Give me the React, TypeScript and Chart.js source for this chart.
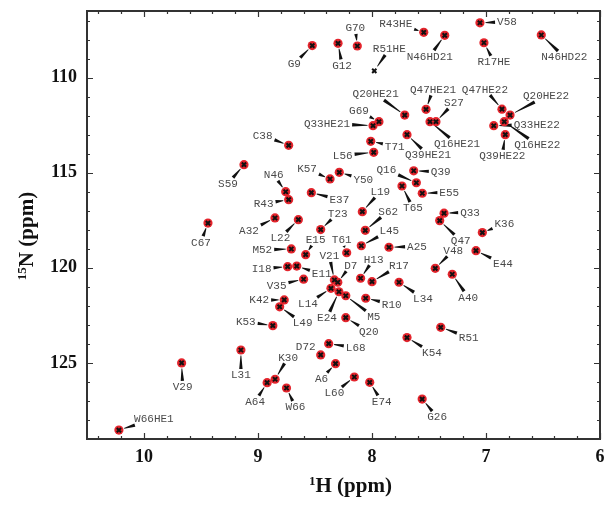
import { useEffect, useRef } from "react";
import { Chart, registerables } from "chart.js";

Chart.register(...registerables);

// Peak assignments (labels), 1H and 15N chemical shifts (ppm)
const peakLabels = [
  "W66HE1", "V29", "L31", "K30", "A64", "W66", "A6", "L60", "E74", "G26",
  "D72", "L68", "K53", "L49", "K42", "Q20", "L14", "E24", "M5", "I18",
  "E11", "V35", "V21", "D7", "H13", "R17", "R10", "L34", "K54", "R51",
  "A40", "E44", "V48", "Q47", "K36", "Q33", "A25", "L45", "S62", "T61",
  "T23", "L19", "E15", "M52", "L22", "A32", "C67", "R43", "N46", "E37",
  "K57", "Y50", "Q16", "Q39", "T65", "E55", "S59", "C38", "L56", "T71",
  "Q39HE21", "Q16HE21", "S27", "Q33HE21", "G69", "Q20HE21", "Q47HE21", "Q47HE22", "Q20HE22", "Q33HE22",
  "Q16HE22", "Q39HE22", "G9", "G12", "G70", "R51HE", "R43HE", "N46HD21", "V58", "R17HE",
  "N46HD22",
];

const hShifts = [
  10.22, 9.67, 9.15, 8.85, 8.92, 8.75, 8.32, 8.155, 8.02, 7.56,
  8.45, 8.38, 8.87, 8.81, 8.77, 8.23, 8.36, 8.29, 8.23, 8.74,
  8.66, 8.60, 8.33, 8.30, 8.10, 8.00, 8.055, 7.763, 7.693, 7.397,
  7.296, 7.088, 7.445, 7.406, 7.032, 7.368, 7.851, 8.094, 8.059, 8.222,
  8.45, 8.085, 8.582, 8.708, 8.646, 8.851, 9.439, 8.731, 8.757, 8.532,
  8.368, 8.287, 7.611, 7.634, 7.737, 7.559, 9.123, 8.731, 7.985, 8.011,
  7.693, 7.491, 7.439, 7.991, 7.939, 7.713, 7.526, 6.86, 6.789, 6.932,
  6.84, 6.831, 8.524, 8.298, 8.129, 7.98, 7.546, 7.362, 7.053, 7.018,
  6.515,
];

const nShifts = [
  128.53, 125.0, 124.32, 125.86, 126.04, 126.32, 125.04, 125.74, 126.02, 126.9,
  124.58, 123.99, 123.04, 122.05, 121.69, 122.62, 121.08, 121.26, 121.47, 119.94,
  119.91, 120.6, 120.64, 120.76, 120.55, 120.73, 121.6, 120.76, 123.67, 123.13,
  120.34, 119.1, 120.03, 117.52, 118.15, 117.13, 118.92, 118.84, 118.03, 119.21,
  117.99, 117.05, 119.31, 119.01, 117.47, 117.38, 117.65, 116.42, 116.0, 116.05,
  115.33, 114.98, 115.53, 114.9, 115.7, 116.08, 114.58, 113.56, 113.93, 113.35,
  113.0, 112.32, 112.32, 112.53, 112.32, 111.97, 111.67, 111.66, 111.97, 112.53,
  112.32, 113.0, 108.32, 108.2, 108.34, 109.65, 107.62, 107.78, 107.12, 108.17,
  107.76,
];

// Label placement: offset of each label's centre from its peak (pixels)
const labelDx = [
  35, 1, 0, 13, -12, 9, -14, -20, 12, 15,
  -15, 27, -27, 23, -25, 23, -23, -12, 28, -26,
  25, -27, -5, 13, 13, 27, 26, 24, 25, 28,
  16, 27, 18, 21, 22, 26, 28, 28, 23, -5,
  17, 18, 10, -29, -18, -26, -7, -25, -12, 28,
  -23, 24, -30, 27, 11, 27, -16, -26, -31, 24,
  21, 27, 18, -46, -20, -29, 7, -17, 36, 43,
  33, -3, -18, 4, -2, 15, -28, -15, 27, 10,
  23,
];
const labelDy = [
  -11, 24, 25, -22, 19, 19, 15, 16, 19, 18,
  -8, 4, -4, 16, 0, 14, 15, 26, 21, 2,
  8, 6, -24, -17, -19, -16, 6, 16, 15, 10,
  23, 13, -18, 20, -9, -1, -1, -15, -19, -13,
  -16, -20, -15, 1, 18, 13, 19, 4, -17, 7,
  -10, 7, -13, 1, 22, -1, 19, -10, 3, 5,
  20, 22, -19, -2, -11, -21, -20, -20, -19, -1,
  23, 21, 18, 22, -18, -22, -9, 21, -1, 19,
  22,
];

const crossOnlyPeaks = ["R51HE"];

const xTickValues = [10, 9, 8, 7, 6];
const yTickValues = [110, 115, 120, 125];

const X_MIN = 6, X_MAX = 10.5;
const Y_MIN = 106.5, Y_MAX = 129;

const nmrPlugin = {
  id: "nmrDecor",
  beforeDatasetsDraw(chart: any) {
    const { ctx, scales } = chart;
    const xs = scales.x, ys = scales.y;
    ctx.save();
    ctx.font = "11px 'Liberation Mono', monospace";
    ctx.textAlign = "center";
    ctx.textBaseline = "middle";
    peakLabels.forEach((name, i) => {
      const px = xs.getPixelForValue(hShifts[i]);
      const py = ys.getPixelForValue(nShifts[i]);
      const lx = px + labelDx[i];
      const ly = py + labelDy[i];
      const w = ctx.measureText(name).width;
      const hw = w / 2 + 2, hh = 6;
      const vx = px - lx, vy = py - ly;
      const s = Math.min(vx !== 0 ? hw / Math.abs(vx) : Infinity, vy !== 0 ? hh / Math.abs(vy) : Infinity);
      const ex = lx + vx * s, ey = ly + vy * s;
      const len = Math.hypot(px - ex, py - ey);
      if (len > 7) {
        const ux = (ex - px) / len, uy = (ey - py) / len;
        const sx = px + ux * 5.5, sy = py + uy * 5.5;
        const nx = -uy, ny = ux;
        const w0 = 0.4, w1 = 1.7;
        ctx.beginPath();
        ctx.moveTo(sx + nx * w0, sy + ny * w0);
        ctx.lineTo(ex + nx * w1, ey + ny * w1);
        ctx.lineTo(ex - nx * w1, ey - ny * w1);
        ctx.lineTo(sx - nx * w0, sy - ny * w0);
        ctx.closePath();
        ctx.fillStyle = "#111";
        ctx.fill();
      }
      ctx.fillStyle = "#4a4a4a";
      ctx.fillText(name, lx, ly + 0.5);
    });
    ctx.restore();
  },
  afterDatasetsDraw(chart: any) {
    const { ctx, chartArea, scales } = chart;
    const { left, right, top, bottom } = chartArea;
    const xs = scales.x, ys = scales.y;
    ctx.save();
    ctx.strokeStyle = "#333";
    ctx.lineWidth = 1.2;
    ctx.beginPath();
    for (let k = 0; k <= 45; k++) {
      const v = X_MIN + k * 0.1;
      const major = Math.abs(v - Math.round(v)) < 1e-6;
      const minor = k % 2 === 0;
      if (!major && !minor) continue;
      const L = major ? 6 : 3;
      const p = Math.round(xs.getPixelForValue(v)) + 0.5;
      ctx.moveTo(p, bottom); ctx.lineTo(p, bottom - L);
      ctx.moveTo(p, top); ctx.lineTo(p, top + L);
    }
    for (let v = 107; v <= 129; v++) {
      const major = v % 5 === 0;
      const L = major ? 6 : 3;
      const p = Math.round(ys.getPixelForValue(v)) + 0.5;
      ctx.moveTo(left, p); ctx.lineTo(left + L, p);
      ctx.moveTo(right, p); ctx.lineTo(right - L, p);
    }
    ctx.stroke();
    ctx.lineWidth = 2;
    ctx.strokeRect(left, top, right - left, bottom - top);

    // axis titles
    ctx.fillStyle = "#111";
    ctx.textBaseline = "alphabetic";
    const big = "bold 21px 'Liberation Serif', serif";
    const sup = "bold 13px 'Liberation Serif', serif";
    ctx.font = sup;
    const s1 = ctx.measureText("1").width;
    ctx.font = big;
    const t1 = ctx.measureText("H (ppm)").width;
    const xcx = (left + right) / 2 + 7;
    let x0 = xcx - (s1 + t1) / 2;
    const xb = 492;
    ctx.font = sup;
    ctx.textAlign = "left";
    ctx.fillText("1", x0, xb - 7);
    ctx.font = big;
    ctx.fillText("H (ppm)", x0 + s1, xb);

    ctx.translate(33, 236);
    ctx.rotate(-Math.PI / 2);
    ctx.font = sup;
    const s2 = ctx.measureText("15").width;
    ctx.font = big;
    const t2 = ctx.measureText("N (ppm)").width;
    x0 = -(s2 + t2) / 2;
    ctx.font = sup;
    ctx.fillText("15", x0, -7);
    ctx.font = big;
    ctx.fillText("N (ppm)", x0 + s2, 0);
    ctx.restore();
  },
};

export default function App() {
  const canvasRef = useRef<HTMLCanvasElement | null>(null);

  useEffect(() => {
    const canvas = canvasRef.current;
    if (!canvas) return;
    const points = hShifts.map((h, i) => ({ x: h, y: nShifts[i] }));
    const tickFont = { family: "'Liberation Serif', serif", size: 18, weight: "bold" as const };
    const chart = new Chart(canvas, {
      type: "scatter",
      data: {
        datasets: [
          {
            data: points,
            order: 0,
            pointStyle: "crossRot",
            pointRadius: 3,
            borderColor: "#111",
            borderWidth: 2,
            backgroundColor: "#111",
          },
          {
            data: points,
            order: 1,
            pointStyle: "circle",
            pointRadius: (c: any) => (crossOnlyPeaks.includes(peakLabels[c.dataIndex]) ? 0 : 4.6),
            backgroundColor: "rgb(228,36,44)",
            borderWidth: 0,
          },
        ],
      },
      options: {
        responsive: false,
        animation: false,
        events: [],
        layout: { padding: { top: 11, right: 13, left: 0, bottom: 0 } },
        plugins: { legend: { display: false }, tooltip: { enabled: false } },
        scales: {
          x: {
            type: "linear",
            reverse: true,
            min: X_MIN,
            max: X_MAX,
            afterBuildTicks: (s: any) => {
              s.ticks = xTickValues.map((v) => ({ value: v }));
            },
            afterFit: (s: any) => {
              s.height = 66;
              s.paddingLeft = 0;
              s.paddingRight = 0;
            },
            grid: { display: false, drawTicks: false },
            border: { display: false },
            ticks: { font: tickFont, color: "#111", padding: 8, maxRotation: 0, autoSkip: false },
          },
          y: {
            type: "linear",
            reverse: true,
            min: Y_MIN,
            max: Y_MAX,
            afterBuildTicks: (s: any) => {
              s.ticks = yTickValues.map((v) => ({ value: v }));
            },
            afterFit: (s: any) => {
              s.width = 87;
              s.paddingTop = 0;
              s.paddingBottom = 0;
            },
            grid: { display: false, drawTicks: false },
            border: { display: false },
            ticks: { font: tickFont, color: "#111", padding: 10, autoSkip: false },
          },
        },
      },
      plugins: [nmrPlugin],
    });
    return () => chart.destroy();
  }, []);

  return (
    <div style={{ position: "absolute", left: 0, top: 0, width: 613, height: 505, background: "#fff" }}>
      <canvas ref={canvasRef} width={613} height={505} style={{ display: "block" }} />
    </div>
  );
}
